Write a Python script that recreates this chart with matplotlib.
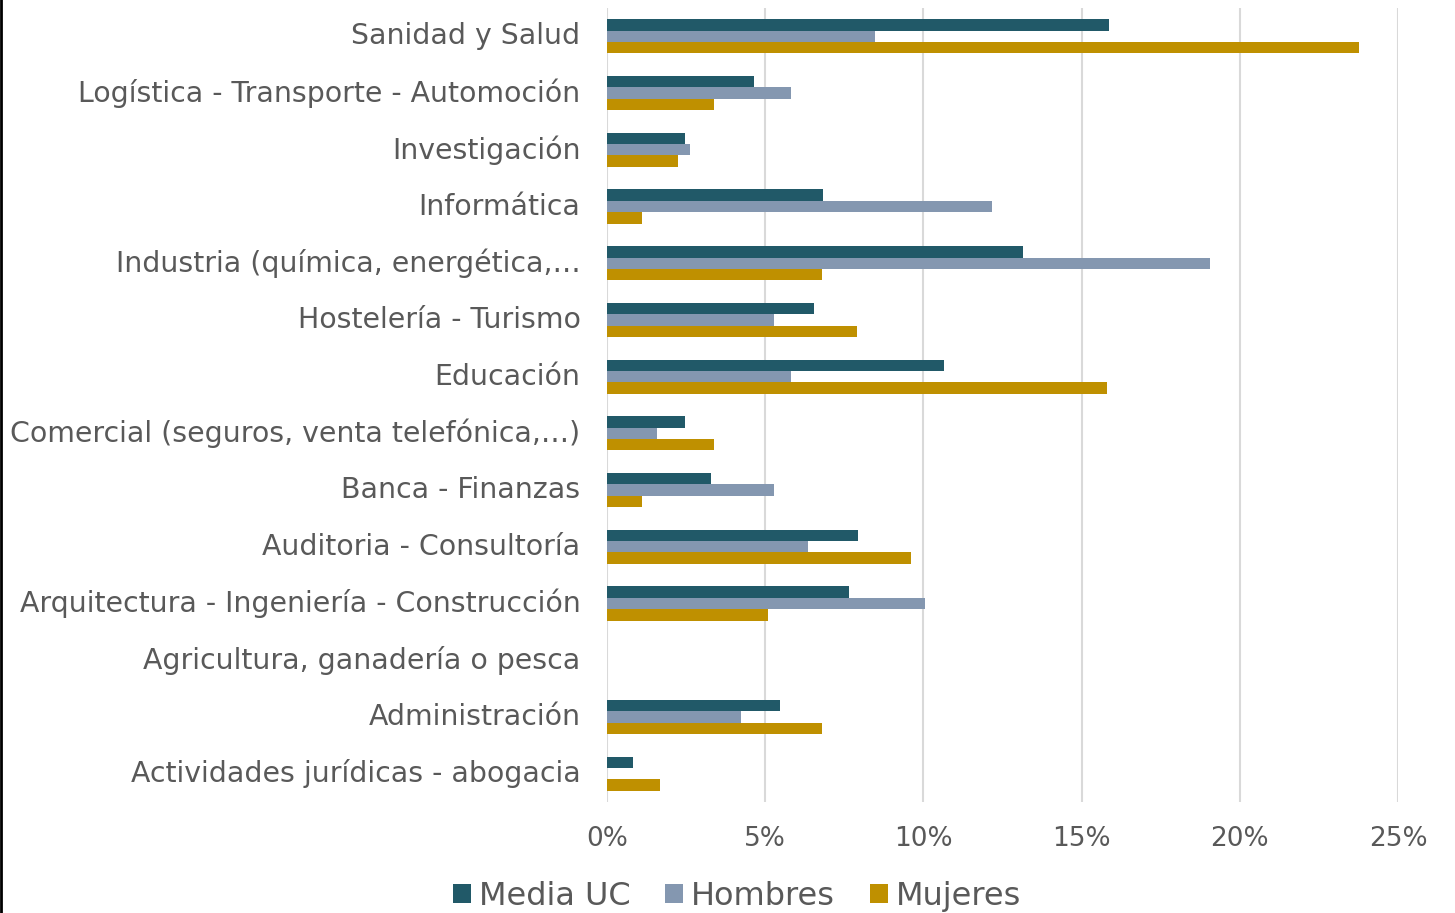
import numpy as np
import matplotlib
matplotlib.use("Agg")
import matplotlib.pyplot as plt
from matplotlib.ticker import FuncFormatter
from matplotlib.lines import Line2D

# Sectores (de arriba a abajo)
categories = [
    "Sanidad y Salud",
    "Logística - Transporte - Automoción",
    "Investigación",
    "Informática",
    "Industria (química, energética,…",
    "Hostelería - Turismo",
    "Educación",
    "Comercial (seguros, venta telefónica,…)",
    "Banca - Finanzas",
    "Auditoria - Consultoría",
    "Arquitectura - Ingeniería - Construcción",
    "Agricultura, ganadería o pesca",
    "Administración",
    "Actividades jurídicas - abogacia",
]

# Porcentajes
media_uc = [15.87, 4.65, 2.47, 6.83, 13.14, 6.55, 10.65, 2.46, 3.28, 7.92, 7.65, 0.0, 5.47, 0.82]
hombres = [8.47, 5.82, 2.62, 12.17, 19.07, 5.28, 5.82, 1.58, 5.28, 6.34, 10.06, 0.0, 4.24, 0.0]
mujeres = [23.76, 3.38, 2.24, 1.11, 6.80, 7.91, 15.81, 3.37, 1.12, 9.60, 5.08, 0.0, 6.80, 1.68]

series_names = ["Media UC", "Hombres", "Mujeres"]
colors = ["#215968", "#8497B0", "#BF9000"]
text_color = "#595959"

fig = plt.figure(figsize=(14.55, 9.13), dpi=100)
ax = fig.add_axes([607 / 1455, 1 - 802 / 913, (1398 - 607) / 1455, (802 - 8) / 913])

y = np.arange(len(categories))
bar_h = 0.2
for k, (vals, name, col) in enumerate(zip([media_uc, hombres, mujeres], series_names, colors)):
    ax.barh(y + (k - 1) * bar_h, vals, height=bar_h, color=col, label=name,
            linewidth=0, zorder=3)

ax.set_ylim(len(categories) - 0.5, -0.5)
ax.set_xlim(0, 25)
ax.set_xticks([0, 5, 10, 15, 20, 25])
ax.xaxis.set_major_formatter(FuncFormatter(lambda v, p: f"{v:.0f}%"))
ax.set_yticks(y)
ax.set_yticklabels(categories, va="center")

ax.grid(axis="x", color="#D9D9D9", linewidth=1.5, zorder=0)
for s in ax.spines.values():
    s.set_visible(False)
ax.tick_params(axis="y", length=0, pad=19, labelsize=20.4, labelcolor=text_color)
ax.tick_params(axis="x", length=0, pad=17, labelsize=19, labelcolor=text_color)

leg = fig.legend(loc="center", bbox_to_anchor=(0.5065, 0.018), ncol=3, frameon=False,
                 fontsize=23, handlelength=0.55, handleheight=0.55, handletextpad=0.25,
                 columnspacing=1.1, labelcolor=text_color)

# borde izquierdo de la imagen
fig.add_artist(Line2D([0.001, 0.001], [0, 1], transform=fig.transFigure, color="black", linewidth=2))

fig.savefig("out.png", dpi=100)
